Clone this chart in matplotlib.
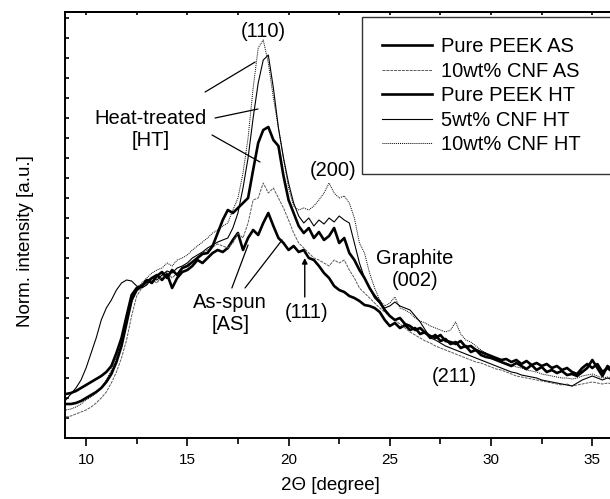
import numpy as np
import matplotlib
matplotlib.use("Agg")
import matplotlib.pyplot as plt

plt.rcParams['font.family'] = ['Liberation Sans', 'DejaVu Sans']

# 2-theta sampling grid (degree), one value every 0.25
two_theta = np.arange(9.0, 36.001, 0.25)

# intensities (arbitrary units), 4 values per degree
pure_peek_as = [
    44, 45, 47, 50,  53, 56, 59, 62,  66, 72, 85, 100,  122, 143, 150, 152,
    156, 160, 163, 158,  164, 150, 160, 166,  168, 172, 178, 175,  180, 185, 188, 186,
    190, 198, 205, 188,  200, 208, 203, 215,  225, 212, 200, 195,  188, 192, 186, 188,
    180, 178, 172, 165,  160, 152, 148, 146,  142, 140, 137, 133,  132, 130, 126, 118,
    112, 115, 110, 113,  108, 110, 104, 106,  100, 103, 97, 99,  94, 96, 90, 92,
    86, 88, 83, 81,  80, 78, 76, 74,  72, 75, 72, 69,  73, 68, 71, 66,
    68, 65, 67, 63,  64, 62, 66, 70,  78, 70, 62, 72,  68,
]
cnf10_as = [
    21, 22, 24, 26,  28, 31, 35, 40,  46, 55, 66, 80,  98, 122, 142, 150,
    154, 158, 155, 162,  166, 160, 165, 170,  173, 176, 181, 185,  188, 191, 194, 192,
    190, 195, 205, 200,  215, 238, 240, 255,  245, 250, 240, 230,  218, 205, 195, 190,
    185, 180, 178, 175,  172, 178, 175, 178,  168, 160, 150, 145,  140, 135, 130, 126,
    122, 118, 114, 110,  106, 103, 100, 97,  95, 92, 90, 88,  86, 84, 82, 80,
    78, 76, 75, 73,  71, 69, 68, 66,  64, 62, 61, 60,  59, 58, 57, 56,
    55, 54, 53, 54,  52, 53, 54, 55,  56, 55, 54, 55,  54,
]
pure_peek_ht = [
    34, 34, 35, 37,  40, 43, 46, 50,  56, 64, 76, 92,  115, 138, 148, 152,
    158, 155, 162, 166,  160, 168, 163, 170,  172, 176, 180, 184,  185, 192, 205, 218,
    228, 225, 230, 235,  240, 268, 295, 308,  311, 298, 292, 262,  238, 225, 212, 205,
    210, 200, 206, 198,  202, 210, 195, 200,  185, 178, 168, 160,  150, 142, 136, 128,
    122, 118, 120, 114,  112, 108, 110, 105,  102, 100, 103, 97,  96, 94, 97, 91,
    92, 88, 86, 84,  82, 80, 78, 79,  76, 78, 74, 77,  73, 75, 72, 74,
    70, 72, 68, 70,  66, 64, 70, 74,  70, 74, 66, 70,  66,
]
cnf5_ht = [
    38, 44, 50, 58,  70, 85, 100, 118,  130, 138, 148, 155,  158, 157, 152, 150,
    153, 160, 158, 163,  167, 165, 170, 172,  175, 180, 183, 186,  190, 193, 196, 198,
    200, 210, 225, 250,  280, 320, 355, 378,  383, 350, 310, 280,  255, 235, 222, 215,
    220, 212, 218, 214,  220, 216, 222, 218,  215, 195, 175, 160,  150, 140, 135, 130,
    132, 136, 132, 130,  128, 122, 116, 108,  100, 98, 95, 92,  90, 88, 86, 84,
    82, 80, 78, 76,  74, 72, 70, 68,  66, 65, 63, 62,  61, 60, 58, 57,
    56, 55, 54, 53,  52, 55, 58, 60,  62, 60, 58, 60,  58,
]
cnf10_ht = [
    28, 29, 31, 34,  38, 41, 45, 50,  58, 68, 80, 96,  115, 135, 150, 155,
    160, 165, 168, 170,  175, 172, 178, 180,  183, 188, 192, 196,  200, 205, 208, 212,
    215, 228, 240, 265,  300, 350, 390, 398,  375, 340, 310, 280,  250, 232, 228, 230,
    228, 232, 238, 245,  255, 245, 240, 242,  235, 220, 195, 185,  165, 150, 138, 132,
    135, 141, 130, 128,  125, 120, 117, 115,  112, 110, 108, 106,  108, 116, 104, 98,
    96, 92, 88, 85,  82, 80, 77, 75,  73, 71, 70, 68,  67, 66, 64, 63,
    62, 61, 60, 60,  59, 60, 62, 63,  64, 62, 60, 61,  60,
]

labels = ["Pure PEEK AS", "10wt% CNF AS", "Pure PEEK HT", "5wt% CNF HT", "10wt% CNF HT"]

fig = plt.figure(figsize=(6.1, 4.99), dpi=100)
ax = fig.add_axes([65 / 610, 61 / 499, 550 / 610, 426 / 499])

ax.plot(two_theta, pure_peek_as, color="black", lw=1.9, label=labels[0])
ax.plot(two_theta, cnf10_as, color="0.35", lw=0.7, ls=(0, (3, 1)), label=labels[1])
ax.plot(two_theta, pure_peek_ht, color="black", lw=1.9, label=labels[2])
ax.plot(two_theta, cnf5_ht, color="black", lw=0.8, label=labels[3])
ax.plot(two_theta, cnf10_ht, color="black", lw=0.7, ls=(0, (1, 1)), label=labels[4])

ax.set_xlim(8.96, 36.12)
ax.set_ylim(0, 426)
ax.set_xticks([10, 15, 20, 25, 30, 35])
ax.set_xticks(np.arange(12.5, 36, 5), minor=True)
ax.set_yticks(np.arange(20, 426, 20))
ax.set_yticklabels([])
ax.tick_params(axis="x", which="major", direction="out", length=6, width=1.2, labelsize=11, pad=5)
ax.tick_params(axis="x", which="minor", direction="out", length=4, width=1.2)
ax.tick_params(axis="y", direction="in", length=3, width=1.2)
top = ax.secondary_xaxis("top")
top.set_xticks(np.arange(10, 36, 2.5))
top.set_xticklabels([])
top.tick_params(direction="in", length=2, width=1.2)
for s in ax.spines.values():
    s.set_linewidth(1.4)
top.spines["top"].set_linewidth(1.4)

ax.set_xlabel("2Θ [degree]", fontsize=13.5)
ax.set_ylabel("Norm. intensity [a.u.]", fontsize=13.5)
ax.xaxis.set_label_coords(0.482, -0.092)
ax.yaxis.set_label_coords(-0.057, 0.462)

leg = ax.legend(loc="upper left", bbox_to_anchor=(0.54, 0.5, 0.5, 0.488), mode="expand",
                fontsize=14.5, frameon=True, fancybox=False, edgecolor="black",
                handlelength=2.5, handletextpad=0.4, labelspacing=0.27, borderpad=1.0,
                borderaxespad=0)
leg.get_frame().set_linewidth(1.0)

fs = 14.5
ax.text(18.74, 416, "(110)", fontsize=fs, ha="center", va="top")
ax.text(13.2, 309, "Heat-treated\n[HT]", fontsize=fs, ha="center", va="center")
ax.text(22.2, 268, "(200)", fontsize=fs, ha="center", va="center")
ax.text(26.25, 168, "Graphite\n(002)", fontsize=fs, ha="center", va="center")
ax.text(28.2, 62, "(211)", fontsize=fs, ha="center", va="center")
ax.text(17.12, 125, "As-spun\n[AS]", fontsize=fs, ha="center", va="center")
ax.text(20.9, 125, "(111)", fontsize=fs, ha="center", va="center")

line = dict(arrowstyle="-", lw=0.9, color="black", shrinkA=0, shrinkB=0)
ax.annotate("", xy=(18.35, 376), xytext=(15.88, 346), arrowprops=line)
ax.annotate("", xy=(18.49, 329), xytext=(16.37, 320), arrowprops=line)
ax.annotate("", xy=(18.59, 276), xytext=(16.22, 303), arrowprops=line)
ax.annotate("", xy=(18.0, 193), xytext=(17.2, 150), arrowprops=line)
ax.annotate("", xy=(19.68, 198), xytext=(17.85, 150), arrowprops=line)
ax.annotate("", xy=(20.8, 180), xytext=(20.8, 141),
            arrowprops=dict(arrowstyle="-|>", lw=1.0, color="black", mutation_scale=8,
                            shrinkA=0, shrinkB=0))

fig.savefig("out.png", dpi=100)
